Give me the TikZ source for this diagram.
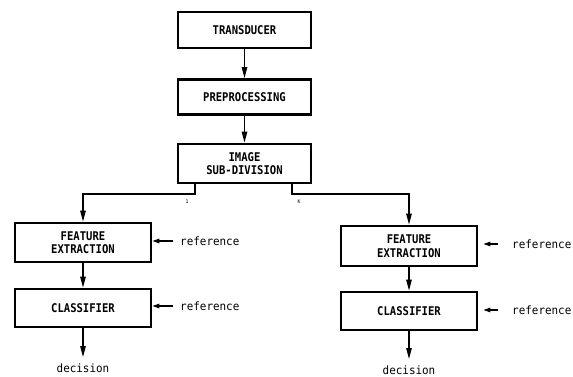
\documentclass[tikz,border=0pt]{standalone}
\usepackage{fontspec}
\usetikzlibrary{arrows.meta}
\newfontfamily\boxfont[FakeStretch=0.88]{DejaVu Sans Mono Bold}
\newfontfamily\lblfont[FakeStretch=0.95]{DejaVu Sans Mono}
\begin{document}
\begin{tikzpicture}[x=1pt,y=-1pt,
  blk/.style={draw,line width=2.8pt,rectangle,inner sep=0pt,font=\boxfont\fontsize{12}{13.5}\selectfont,align=center},
  wbox/.style={blk,minimum width=133pt,minimum height=36pt},
  fbox/.style={blk,minimum width=136pt,minimum height=39pt},
  conn/.style={line width=1.3pt,-{Triangle[length=11pt,width=5.5pt]}},
  refarr/.style={line width=1.2pt,-{Triangle[length=7pt,width=4.5pt]}},
  lbl/.style={font=\lblfont\fontsize{11.5}{13}\selectfont,inner sep=0pt},
  tiny/.style={font=\lblfont\fontsize{5}{6}\selectfont,inner sep=0pt}]
\useasboundingbox (0,0) rectangle (573,377);
\node[wbox] (T) at (244.5,30) {TRANSDUCER};
\node[wbox,minimum height=35pt] (P) at (244.5,97) {PREPROCESSING};
\node[wbox,minimum height=39pt] (I) at (244.5,163.5) {IMAGE\\SUB-DIVISION};
\node[fbox] (FE1) at (83,242.5) {FEATURE\\EXTRACTION};
\node[fbox,minimum height=38pt] (C1) at (83,308) {CLASSIFIER};
\node[fbox,minimum height=40pt] (FE2) at (409,246) {FEATURE\\EXTRACTION};
\node[fbox,minimum height=38pt] (C2) at (409,311) {CLASSIFIER};
\draw[conn] (T) -- (P);
\draw[conn] (P) -- (I);
\coordinate (bl) at (195,194);
\coordinate (br) at (292,194);
\draw[conn] (I.south -| bl) -- (bl) -| (FE1.north);
\draw[conn] (I.south -| br) -- (br) -| (FE2.north);
\node[tiny] (one) at (187,202) {1};
\node[tiny] (kk) at (299,202) {K};
\draw[conn] (FE1) -- (C1);
\draw[conn] (FE2) -- (C2);
\coordinate (d1) at (83,357);
\coordinate (d2) at (409,359);
\draw[conn] (C1.south) -- (d1);
\draw[conn] (C2.south) -- (d2);
\node[lbl] (dec1) at (83,368) {decision};
\node[lbl] (dec2) at (409,370) {decision};
\node[lbl,anchor=west] (r1) at (180,241) {reference};
\node[lbl,anchor=west] (r2) at (180,306) {reference};
\node[lbl,anchor=west] (r3) at (512,244) {reference};
\node[lbl,anchor=west] (r4) at (512,310) {reference};
\draw[refarr] ([xshift=-7pt]r1.west) -- (FE1.east |- r1.west);
\draw[refarr] ([xshift=-7pt]r2.west) -- (C1.east |- r2.west);
\draw[refarr] ([xshift=-14pt]r3.west) -- ([xshift=5pt]FE2.east |- r3.west);
\draw[refarr] ([xshift=-14pt]r4.west) -- ([xshift=5pt]C2.east |- r4.west);
\end{tikzpicture}
\end{document}
